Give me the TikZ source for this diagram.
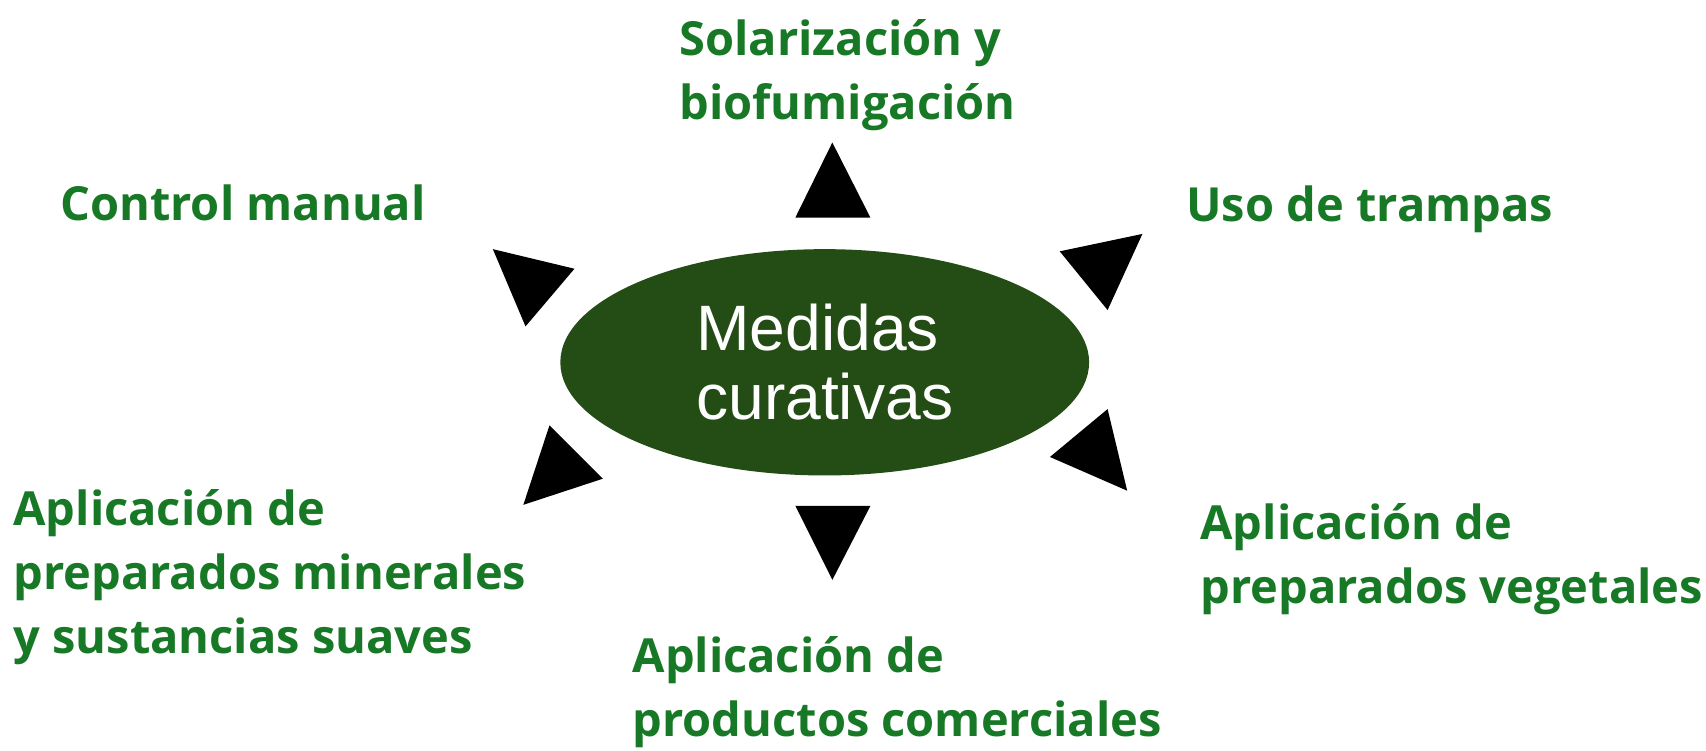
\documentclass[tikz,border=0pt]{standalone}
\usepackage{fontspec}
\usetikzlibrary{shapes.geometric}
\newfontfamily\labfont{Open Sans}
\newfontfamily\centfont{Liberation Sans}
\definecolor{labgreen}{RGB}{23,120,38}
\definecolor{ellgreen}{RGB}{35,77,20}
\begin{document}
\begin{tikzpicture}[x=0.5pt,y=-0.5pt,
  lab/.style={anchor=base west, inner sep=0pt, align=left, text=labgreen,
    font=\labfont\bfseries\fontsize{21.6}{29.5}\selectfont},
  pointer/.style={fill=black}]
\useasboundingbox (0,0) rectangle (1568,690);
\fill[white] (0,0) rectangle (1568,690);
\node[ellipse, fill=ellgreen, inner sep=0pt, minimum width=243pt, minimum height=104pt,
  text=white, align=left, font=\centfont\fontsize{29.5}{31.5}\selectfont] (c) at (758,333) {Medidas\\curativas};
% pointers
\fill[pointer] (765,131) -- (800,200) -- (731,200) -- cycle;
\fill[pointer] (453,229) -- (528,247) -- (483,300) -- cycle;
\fill[pointer] (1050,215) -- (974,231) -- (1018,285) -- cycle;
\fill[pointer] (1036,451) -- (965,420) -- (1018,376) -- cycle;
\fill[pointer] (481,464) -- (505,391) -- (554,440) -- cycle;
\fill[pointer] (765,533) -- (800,465) -- (731,465) -- cycle;
% labels (anchor at baseline of the last line)
\node[lab] (sol) at (624,110) {Solarización y\\biofumigación};
\node[lab] (ctrl) at (55,203) {Control manual};
\node[lab] (uso) at (1090,204) {Uso de trampas};
\node[lab] (min) at (12,601) {Aplicación de\\preparados minerales\\y sustancias suaves};
\node[lab] (veg) at (1103,555) {Aplicación de\\preparados vegetales};
\node[lab] (com) at (581,677) {Aplicación de\\productos comerciales};
\end{tikzpicture}
\end{document}
